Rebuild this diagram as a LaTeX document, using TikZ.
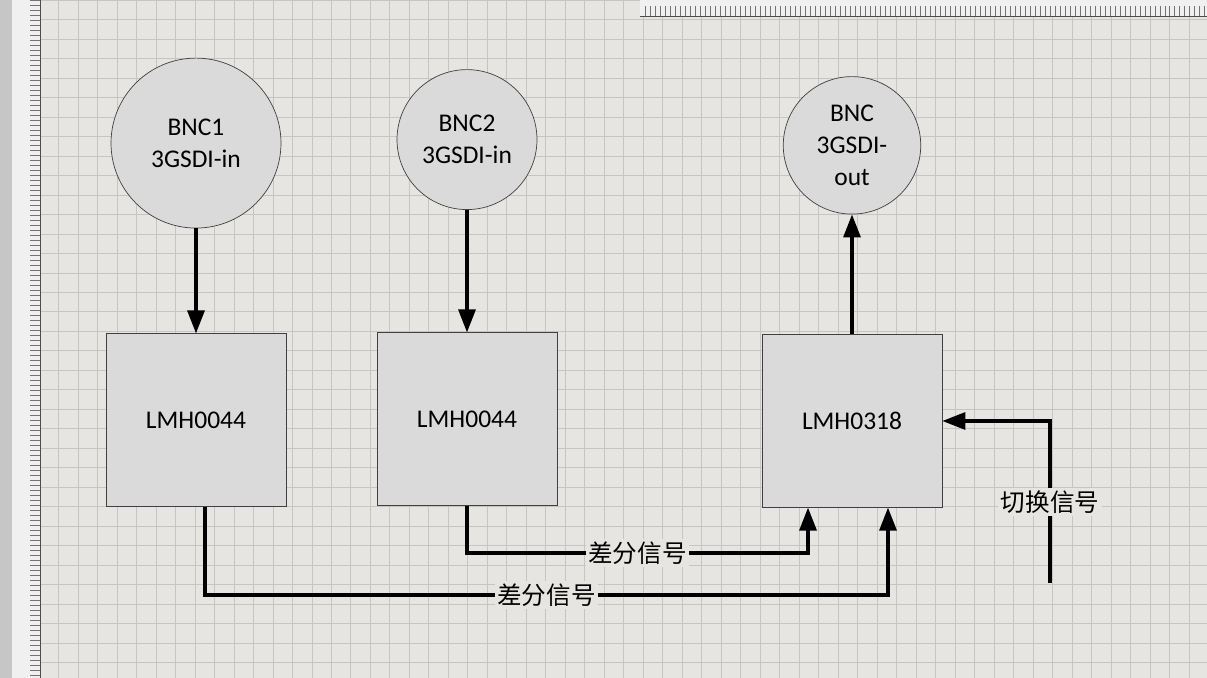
\documentclass[tikz,border=0pt]{standalone}
\usepackage{fontspec}
\setmainfont{Carlito}
\newfontfamily\cjk{Noto Sans CJK SC}
\usetikzlibrary{arrows.meta, positioning}
\definecolor{paper}{RGB}{231,229,225}
\definecolor{gridgray}{RGB}{198,197,195}
\definecolor{shapegray}{RGB}{218,218,218}

\begin{document}
\begin{tikzpicture}[
        x=0.02cm, y=-0.02cm,
        node distance=2.4cm,
        every node/.style={font=\fontsize{14.5}{18}\selectfont},
        port/.style={circle, draw=black!75, fill=shapegray, align=center, inner sep=0pt},
        chip/.style={rectangle, draw=black!75, fill=shapegray, minimum width=3.6cm, minimum height=3.45cm},
        arrow/.style={-{Triangle[length=4.6mm, width=3.4mm]}, line width=1.8pt},
        siglabel/.style={fill=paper, inner sep=1.5pt, font=\cjk\fontsize{14}{17}\selectfont}
    ]
        % screen background
        \useasboundingbox (0,0) rectangle (1207,678);
        \clip (0,0) rectangle (1207,678);
        \fill[paper] (0,0) rectangle (1207,678);
        \draw[gridgray, line width=0.5pt] (0cm,0cm) grid[step=0.39cm] (24.14cm,-13.56cm);
        \fill[gray!45] (0,0) rectangle (12,678);
        \fill[gray!12] (12,0) rectangle (40,678);
        \draw[black!55, line width=0.4pt] (30,0) grid[xstep=0.8cm, ystep=0.1cm] (40,678);
        \draw[black!70] (40,0) -- (40,678);
        \fill[gray!12] (640,0) rectangle (1207,16);
        \draw[black!55, line width=0.4pt] (640,6) grid[xstep=0.1cm, ystep=0.32cm] (1207,16);
        \draw[black!70] (640,16) -- (1207,16);

        % chips
        \node[chip] (chip1) at (196,420) {LMH0044};
        \node[chip] (chip2) at (467,419) {LMH0044};
        \node[chip] (chip3) at (852,421) {LMH0318};

        % connectors
        \node[port, minimum size=3.4cm, above=2.1cm of chip1] (bnc1) {BNC1\\3GSDI-in};
        \node[port, minimum size=2.8cm, above=2.45cm of chip2] (bnc2) {BNC2\\3GSDI-in};
        \node[port, minimum size=2.75cm, above=of chip3] (bnc3) {BNC\\3GSDI-\\out};

        \coordinate (in1) at ([xshift=-0.88cm]chip3.south);
        \coordinate (in2) at ([xshift=0.72cm]chip3.south);
        \coordinate (out1) at ([xshift=0.18cm]chip1.south);
        \coordinate (row1) at (0,553);
        \coordinate (row2) at (0,595);
        \coordinate (sw) at (1050,583);

        \draw[arrow] (bnc1) -- (chip1);
        \draw[arrow] (bnc2) -- (chip2);
        \draw[arrow] (chip3) -- (bnc3);
        \draw[arrow] (chip2.south) -- (chip2.south |- row1) -- node[siglabel] {差分信号} (in1 |- row1) -- (in1);
        \draw[arrow] (out1) -- (out1 |- row2) -- node[siglabel] {差分信号} (in2 |- row2) -- (in2);
        \draw[arrow] (sw) -- node[siglabel] {切换信号} (sw |- chip3.east) -- (chip3.east);
    \end{tikzpicture}
\end{document}
